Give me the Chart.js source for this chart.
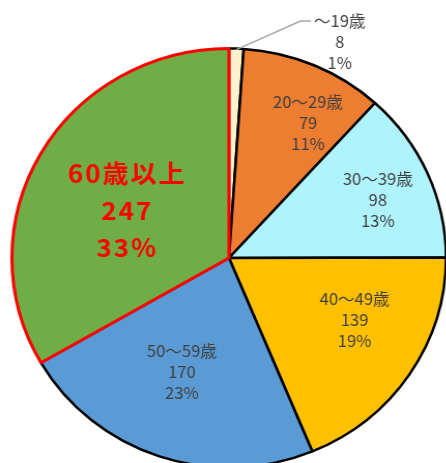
<!DOCTYPE html>
<html><head><meta charset="utf-8">
<script src="https://cdn.jsdelivr.net/npm/chart.js@4/dist/chart.umd.min.js"></script>
<style>
html,body{margin:0;padding:0;background:#fff;overflow:hidden;width:446px;height:463px;}
#wrap{position:absolute;left:0;top:0;width:440px;height:520px;transform:scaleX(1.036);transform-origin:0 0;}
</style></head>
<body>
<div id="wrap"><canvas id="c" width="440" height="520"></canvas></div>
<script>
const categories = ['～19歳','20～29歳','30～39歳','40～49歳','50～59歳','60歳以上'];
const counts = [8, 79, 98, 139, 170, 247];
const percents = ['1%','11%','13%','19%','23%','33%'];
const colors = ['#FFF2CC','#ED7D31','#AFF4FD','#FFC000','#5B9BD5','#70AD47'];
const borderColors = ['#000000','#000000','#000000','#000000','#000000','#FF0000'];
const borderWidths = [2.5,2.5,2.5,2.5,2.5,3];
// label placement: angle offset from slice middle (deg), radial fraction
const labelPlace = [[24.4, 1.15],[6.4,0.74],[1.9,0.74],[-6.6,0.65],[3.1,0.584],[-4.4,0.52]];

const labelPlugin = {
  id:'sliceLabels',
  afterDatasetsDraw(chart){
    const ctx = chart.ctx;
    const meta = chart.getDatasetMeta(0);
    meta.data.forEach((arc,i)=>{
      const mid = (arc.startAngle+arc.endAngle)/2;
      const a = mid + labelPlace[i][0]*Math.PI/180;
      const r = arc.outerRadius*labelPlace[i][1];
      const lx = arc.x + r*Math.cos(a);
      const ly = arc.y + r*Math.sin(a);
      ctx.save();
      ctx.textAlign='center';
      ctx.textBaseline='middle';
      let lh, font, color;
      if(i===5){ font='bold 25px "Noto Sans CJK JP"'; color='#FF0000'; lh=37; }
      else { font='16px "Noto Sans CJK JP"'; color='#404040'; lh=21; }
      ctx.font=font; ctx.fillStyle=color;
      if(i===0){
        const sx = arc.x + arc.outerRadius*Math.cos(mid);
        const sy = arc.y + arc.outerRadius*Math.sin(mid);
        const ey = ly - lh;
        const w = ctx.measureText(categories[i]).width;
        const ex = lx - w/2 - 3;
        ctx.strokeStyle='#A6A6A6'; ctx.lineWidth=1.5;
        ctx.beginPath(); ctx.moveTo(sx,sy+1); ctx.lineTo(ex-10,ey); ctx.lineTo(ex,ey); ctx.stroke();
      }
      ctx.letterSpacing = (i===5) ? '2px' : '0px';
      ctx.fillText(categories[i], lx, ly-lh);
      ctx.fillText(String(counts[i]), lx, ly);
      ctx.fillText(percents[i], lx, ly+lh);
      ctx.restore();
    });
  }
};

new Chart(document.getElementById('c'),{
  type:'pie',
  data:{labels:categories,datasets:[{data:counts,backgroundColor:colors,borderColor:borderColors,borderWidth:borderWidths}]},
  options:{
    responsive:false,animation:false,
    layout:{padding:{left:10,right:8,top:47,bottom:51}},
    plugins:{legend:{display:false},tooltip:{enabled:false}}
  },
  plugins:[labelPlugin]
});
</script>
</body></html>
